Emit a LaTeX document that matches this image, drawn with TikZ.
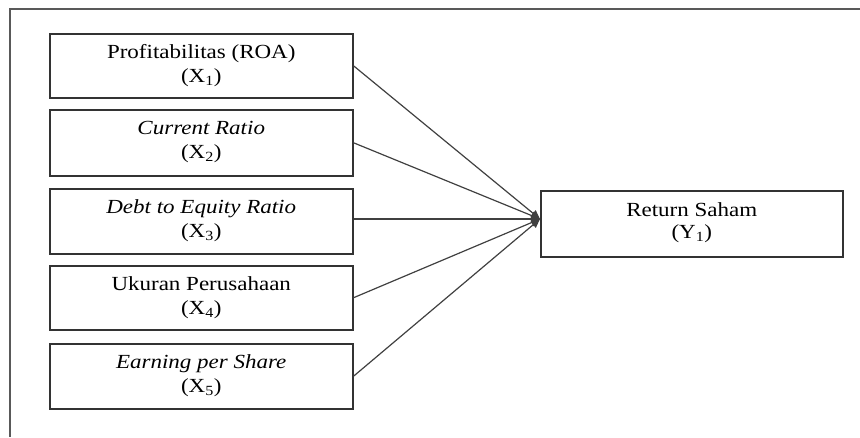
\documentclass[tikz,border=0pt]{standalone}
\usepackage{fontspec}
\setmainfont[FakeStretch=1.15]{Liberation Serif}
\usetikzlibrary{arrows.meta}
\begin{document}
\begin{tikzpicture}[x=1pt,y=-1pt,
  box/.style={draw=black!80,line width=1.5pt,inner sep=0pt,anchor=north west},
  lbl/.style={align=center,font=\fontsize{20}{24}\selectfont,inner sep=0pt},
  conn/.style={draw=black!75,line width=1.2pt,-{Triangle[length=9pt,width=8pt]}},
  frame/.style={draw=black!65,line width=1.4pt}]
\useasboundingbox (0,0) rectangle (860,437);
% frame
\coordinate (fr) at (860,9);
\coordinate (fc) at (10,9);
\coordinate (fb) at (10,437);
\draw[frame] (fr) -- (fc) -- (fb);
% left boxes
\node[box,minimum width=303pt,minimum height=64pt] (b1) at (49,33) {};
\node[box,minimum width=303pt,minimum height=66pt] (b2) at (49,109) {};
\node[box,minimum width=303pt,minimum height=65pt] (b3) at (49,188) {};
\node[box,minimum width=303pt,minimum height=64pt] (b4) at (49,265) {};
\node[box,minimum width=303pt,minimum height=65pt] (b5) at (49,343) {};
\node[box,minimum width=302pt,minimum height=66pt] (y) at (540,190) {};
% texts
\node[lbl] (t1) at ([yshift=0.5pt]b1.center) {Profitabilitas (ROA)\\(X\textsubscript{1})};
\node[lbl] (t2) at ([yshift=0.5pt]b2.center) {\textit{Current Ratio}\\(X\textsubscript{2})};
\node[lbl] (t3) at ([yshift=0.5pt]b3.center) {\textit{Debt to Equity Ratio}\\(X\textsubscript{3})};
\node[lbl] (t4) at ([yshift=0.5pt]b4.center) {Ukuran Perusahaan\\(X\textsubscript{4})};
\node[lbl] (t5) at ([yshift=0.5pt]b5.center) {\textit{Earning per Share}\\(X\textsubscript{5})};
\node[lbl,font=\fontsize{20}{22}\selectfont] (ty) at ([yshift=1.5pt]y.center) {Return Saham\\(Y\textsubscript{1})};
% connectors
\coordinate (tip) at (540,219);
\draw[conn] (b1.east) -- (tip);
\draw[conn] (b2.east) -- (tip);
\draw[conn] (b3.east |- tip) -- (tip);
\draw[conn] (b4.east) -- (tip);
\draw[conn] (b5.east) -- (tip);
\end{tikzpicture}
\end{document}
